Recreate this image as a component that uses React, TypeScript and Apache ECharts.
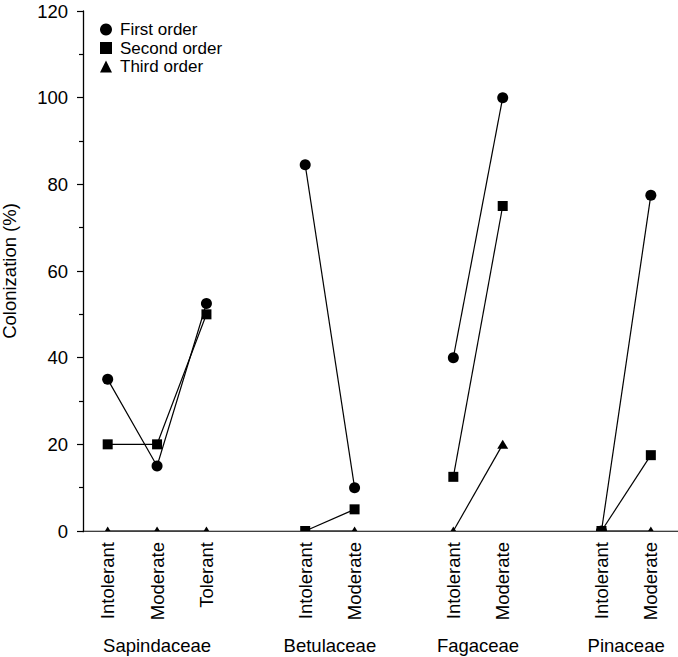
import React, { useEffect, useRef } from "react";
import * as echarts from "echarts";

const categories = ["Intolerant", "Moderate", "Tolerant", "Intolerant", "Moderate", "Intolerant", "Moderate", "Intolerant", "Moderate"];
const families = ["Sapindaceae", "Betulaceae", "Fagaceae", "Pinaceae"];
const familySizes = [3, 2, 2, 2];
const firstOrder = [35, 15, 52.5, 84.5, 10, 40, 100, 0, 77.5];
const secondOrder = [20, 20, 50, 0, 5, 12.5, 75, 0, 17.5];
const thirdOrder = [0, 0, 0, 0, 0, 0, 20, 0, 0];
const seriesNames = ["First order", "Second order", "Third order"];

const FONT = "'Liberation Sans', Arial, Helvetica, sans-serif";

export default function App() {
  const ref = useRef<HTMLDivElement>(null);
  useEffect(() => {
    document.body.style.margin = "0";
    if (!ref.current) return;
    const chart = echarts.init(ref.current, undefined, { renderer: "svg" });

    // slot positions: one empty slot between families
    const positions: number[] = [];
    const groups: number[][] = [];
    const centers: number[] = [];
    let slot = 0;
    let idx = 0;
    familySizes.forEach((n) => {
      const g: number[] = [];
      for (let i = 0; i < n; i++) {
        slot += 1;
        positions.push(slot);
        g.push(idx++);
      }
      groups.push(g);
      centers.push((positions[g[0]] + positions[g[g.length - 1]]) / 2);
      slot += 1;
    });

    const orders = [firstOrder, secondOrder, thirdOrder];
    const symbols = ["circle", "rect", "triangle"];
    const sizes: any[] = [11, 10, [11, 9]];
    const series: any[] = [];
    orders.forEach((vals, o) => {
      groups.forEach((g) => {
        series.push({
          type: "line",
          name: seriesNames[o],
          data: g.map((i) => [positions[i], vals[i]]),
          symbol: symbols[o],
          symbolSize: sizes[o],
          showSymbol: true,
          lineStyle: { color: "#000", width: 1.2 },
          itemStyle: { color: "#000" },
          z: 2 + o,
          clip: false,
        });
      });
    });

    const labelFor = (v: number) => {
      const i = positions.indexOf(v);
      return i >= 0 ? categories[i] : "";
    };
    const famFor = (v: number) => {
      const i = centers.indexOf(v);
      return i >= 0 ? families[i] : "";
    };

    chart.setOption({
      animation: false,
      textStyle: { fontFamily: FONT },
      grid: { left: 83, right: 0, top: 11, bottom: 126, containLabel: false, outerBoundsMode: "none" },
      legend: {
        data: seriesNames.map((n, o) => ({ name: n, icon: symbols[o] })),
        orient: "vertical",
        left: 100,
        top: 21,
        padding: 0,
        itemWidth: 12,
        itemHeight: 12,
        itemGap: 1.5,
        selectedMode: false,
        itemStyle: { color: "#000" },
        textStyle: { fontSize: 17, color: "#000", fontFamily: FONT, padding: [0, 0, 0, 3] },
      },
      xAxis: [
        {
          type: "value",
          min: 0.5,
          max: 12.55,
          position: "bottom",
          splitLine: { show: false },
          axisLine: { show: true, onZero: false, lineStyle: { color: "#000", width: 1.3 } },
          axisTick: { show: false },
          axisLabel: {
            customValues: positions,
            formatter: (v: number) => labelFor(v),
            rotate: 90,
            margin: 11,
            fontSize: 18.5,
            color: "#000",
            fontFamily: FONT,
          },
        },
        {
          type: "value",
          min: 0.5,
          max: 12.55,
          position: "bottom",
          offset: 0,
          splitLine: { show: false },
          axisLine: { show: false },
          axisTick: { show: false },
          axisLabel: {
            customValues: centers,
            formatter: (v: number) => famFor(v),
            margin: 105,
            fontSize: 18.5,
            color: "#000",
            fontFamily: FONT,
          },
        },
      ],
      yAxis: {
        type: "value",
        min: 0,
        max: 120,
        interval: 20,
        name: "Colonization (%)",
        nameLocation: "middle",
        nameGap: 64,
        nameTextStyle: { fontSize: 18.5, color: "#000", fontFamily: FONT },
        splitLine: { show: false },
        axisLine: { show: true, lineStyle: { color: "#000", width: 1.3 } },
        axisTick: { show: true, length: 6, lineStyle: { color: "#000", width: 1.2 } },
        minorTick: { show: true, splitNumber: 2, length: 4, lineStyle: { color: "#000", width: 1.2 } },
        axisLabel: { fontSize: 18.5, color: "#000", margin: 15, fontFamily: FONT },
      },
      series,
    });

    // mask markers below the x axis (reference clips them at the axis)
    const p0 = chart.convertToPixel({ gridIndex: 0 }, [0.5, 0]) as number[];
    const p1 = chart.convertToPixel({ gridIndex: 0 }, [12.55, 0]) as number[];
    chart.setOption({
      graphic: [
        {
          type: "rect",
          z: 50,
          shape: { x: p0[0] + 1, y: p0[1] + 0.8, width: p1[0] - p0[0], height: 7 },
          style: { fill: "#fff" },
        },
      ],
    });

    return () => chart.dispose();
  }, []);
  return <div ref={ref} style={{ width: 678, height: 657 }} />;
}
